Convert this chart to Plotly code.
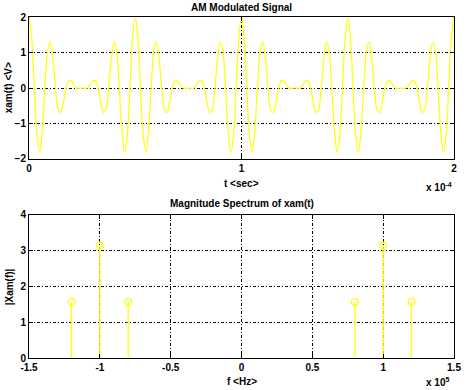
import plotly.graph_objects as go

# Top plot: AM signal xam(t), every 1.25 us (0 .. 200 us)
t_step_us = 1.25
xam_0_50 = [2.0, 1.41, 0.0, -1.34, -1.81, -1.21, 0.0, 1.03, 1.31, 0.82,
            0.0, -0.6, -0.69, -0.39, 0.0, 0.21, 0.19, 0.08, 0.0, -0.01,
            0.0, -0.01, 0.0, 0.08, 0.19, 0.21, 0.0, -0.39, -0.69, -0.6,
            0.0, 0.82, 1.31, 1.03, 0.0, -1.21, -1.81, -1.34, 0.0, 1.41]
xam_50_100 = [2.0, 1.41, 0.0, -1.34, -1.81, -1.21, 0.0, 1.03, 1.31, 0.82,
              0.0, -0.6, -0.69, -0.39, 0.0, 0.21, 0.19, 0.08, 0.0, -0.01,
              0.0, -0.01, 0.0, 0.08, 0.19, 0.21, 0.0, -0.39, -0.69, -0.6,
              0.0, 0.82, 1.31, 1.03, 0.0, -1.21, -1.81, -1.34, 0.0, 1.41]
xam_100_150 = [2.0, 1.41, 0.0, -1.34, -1.81, -1.21, 0.0, 1.03, 1.31, 0.82,
               0.0, -0.6, -0.69, -0.39, 0.0, 0.21, 0.19, 0.08, 0.0, -0.01,
               0.0, -0.01, 0.0, 0.08, 0.19, 0.21, 0.0, -0.39, -0.69, -0.6,
               0.0, 0.82, 1.31, 1.03, 0.0, -1.21, -1.81, -1.34, 0.0, 1.41]
xam_150_200 = [2.0, 1.41, 0.0, -1.34, -1.81, -1.21, 0.0, 1.03, 1.31, 0.82,
               0.0, -0.6, -0.69, -0.39, 0.0, 0.21, 0.19, 0.08, 0.0, -0.01,
               0.0, -0.01, 0.0, 0.08, 0.19, 0.21, 0.0, -0.39, -0.69, -0.6,
               0.0, 0.82, 1.31, 1.03, 0.0, -1.21, -1.81, -1.34, 0.0, 1.41, 2.0]

# Bottom plot: magnitude spectrum
freqs = [-1.2e5, -1.0e5, -0.8e5, 0.8e5, 1.0e5, 1.2e5]
mags = [1.57, 3.14, 1.57, 1.57, 3.14, 1.57]

x_ticks_top = [0, 1e-4, 2e-4]
x_ticktext_top = ["0", "1", "2"]
x_ticks_bot = [-1.5e5, -1e5, -0.5e5, 0, 0.5e5, 1e5, 1.5e5]
x_ticktext_bot = ["-1.5", "-1", "-0.5", "0", "0.5", "1", "1.5"]

x_val = xam_0_50 + xam_50_100 + xam_100_150 + xam_150_200
t_sec = [i * t_step_us * 1e-6 for i in range(len(x_val))]

YELLOW = "#ffff00"
FONT = dict(family="Liberation Sans", size=10, color="black", weight="bold")

fig = go.Figure()
fig.add_trace(go.Scatter(x=t_sec, y=x_val, mode="lines",
                         line=dict(color=YELLOW, width=1.2, shape="spline", smoothing=1.0),
                         xaxis="x", yaxis="y", showlegend=False, hoverinfo="skip"))

stem_x, stem_y = [], []
for f, m in zip(freqs, mags):
    stem_x += [f, f, None]
    stem_y += [0, m, None]
fig.add_trace(go.Scatter(x=stem_x, y=stem_y, mode="lines",
                         line=dict(color=YELLOW, width=1.3),
                         xaxis="x2", yaxis="y2", showlegend=False, hoverinfo="skip"))
fig.add_trace(go.Scatter(x=freqs, y=mags, mode="markers",
                         marker=dict(symbol="circle-open", size=7, color=YELLOW, line=dict(width=1.3)),
                         xaxis="x2", yaxis="y2", showlegend=False, hoverinfo="skip"))

axis_common = dict(showline=True, linecolor="black", linewidth=1, mirror="ticks",
                   ticks="inside", ticklen=4, tickcolor="black",
                   showgrid=True, gridcolor="black", gridwidth=1,
                   griddash="3px,2px,1px,2px", zeroline=False,
                   tickfont=FONT)

fig.update_layout(
    width=468, height=390,
    margin=dict(l=29, r=7, t=17, b=32),
    paper_bgcolor="white", plot_bgcolor="white",
    font=FONT,
    xaxis=dict(domain=[0, 1], range=[0, 2e-4], tickvals=x_ticks_top, ticktext=x_ticktext_top,
               anchor="y", **axis_common),
    yaxis=dict(domain=[0.5836, 1], range=[-2, 2], tickvals=[-2, -1, 0, 1, 2],
               anchor="x", **axis_common),
    xaxis2=dict(domain=[0, 1], range=[-1.5e5, 1.5e5], tickvals=x_ticks_bot, ticktext=x_ticktext_bot,
                anchor="y2", **axis_common),
    yaxis2=dict(domain=[0, 0.4194], range=[0, 4], tickvals=[0, 1, 2, 3, 4],
                anchor="x2", **axis_common),
)

def ypx(p):
    return (358 - p) / 341.0

def xpx(p):
    return (p - 29) / 432.0

ann = [
    dict(text="AM Modulated Signal", x=xpx(245), y=ypx(7)),
    dict(text="t &lt;sec&gt;", x=xpx(245), y=ypx(183)),
    dict(text="Magnitude Spectrum of xam(t)", x=xpx(245), y=ypx(204)),
    dict(text="f &lt;Hz&gt;", x=xpx(245), y=ypx(381)),
    dict(text="xam(t) &lt;V&gt;", x=xpx(8), y=ypx(88), textangle=-90),
    dict(text="|Xam(f)|", x=xpx(9), y=ypx(287), textangle=-90),
    dict(text="x 10<sup>-4</sup>", x=xpx(430), y=ypx(187), xanchor="left"),
    dict(text="x 10<sup>5</sup>", x=xpx(430), y=ypx(382), xanchor="left"),
]
for a in ann:
    a.setdefault("xanchor", "center")
    fig.add_annotation(xref="paper", yref="paper", showarrow=False, yanchor="middle",
                       font=FONT, **a)

fig.write_html("out.html", config={"displayModeBar": False},
               post_script="document.body.style.margin='0';document.body.style.overflow='hidden';")
